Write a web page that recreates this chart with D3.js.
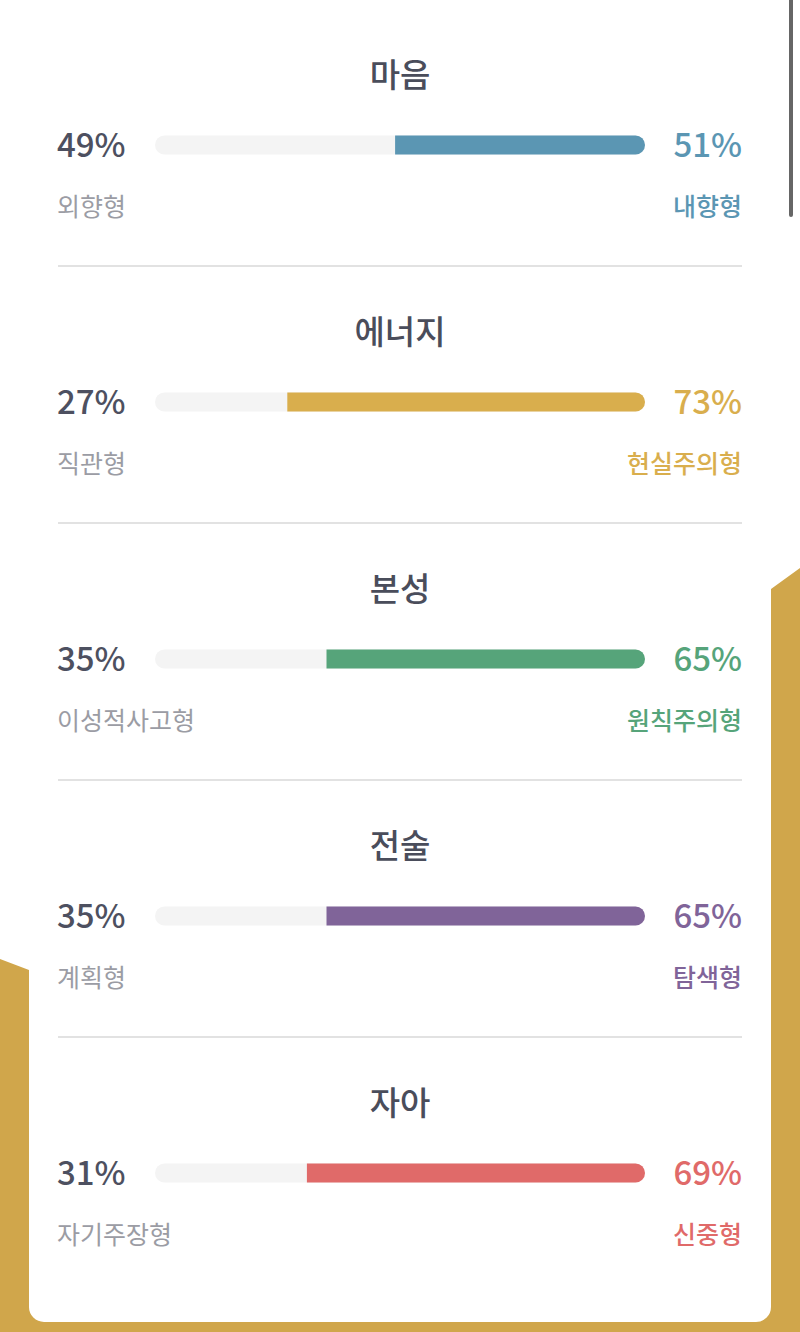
<!DOCTYPE html>
<html><head><meta charset="utf-8">
<script src="https://cdn.jsdelivr.net/npm/d3@7"></script>
<style>html,body{margin:0;padding:0;background:#fff;overflow:hidden}</style>
</head><body>
<svg id="c" width="800" height="1332"></svg>
<script>
const categories = ["마음","에너지","본성","전술","자아"];
const leftValues = [49,27,35,35,31];
const rightValues = [51,73,65,65,69];
const leftLabels = ["외향형","직관형","이성적사고형","계획형","자기주장형"];
const rightLabels = ["내향형","현실주의형","원칙주의형","탐색형","신중형"];
const colors = ["#5B96B3","#D9AE4D","#56A47A","#806499","#E06A69"];

const svg = d3.select("#c");
const font = "'Noto Sans CJK KR','Noto Sans',sans-serif";
// background
svg.append("rect").attr("width",800).attr("height",1332).attr("fill","#fff");
svg.append("path").attr("d","M0,959 L29,970 L400,800 L771,589 L800,568 L800,1332 L0,1332 Z").attr("fill","#D0A64B");
// card
svg.append("rect").attr("x",29).attr("y",-40).attr("width",742).attr("height",1362).attr("rx",15).attr("fill","#fff");
// scrollbar
svg.append("rect").attr("x",789).attr("y",-5).attr("width",4).attr("height",222).attr("rx",2).attr("fill","#666");

const x = d3.scaleLinear().domain([0,100]).range([155,645]);
const y0 = d3.scaleBand().domain(categories).range([10,1295]);
const step = y0.step();
const barH = 19;

categories.forEach((cat,i)=>{
  const top = y0(cat);
  const g = svg.append("g").attr("transform",`translate(0,${top})`);
  g.append("text").attr("x",400).attr("y",77).attr("text-anchor","middle")
    .attr("font-family",font).attr("font-size",33).attr("font-weight",500).attr("fill","#4A4D5B").text(cat);
  const cy = 135;
  g.append("rect").attr("x",x(0)).attr("y",cy-barH/2).attr("width",x(100)-x(0)).attr("height",barH).attr("rx",barH/2).attr("fill","#F4F4F4");
  const xs = x(leftValues[i]), xe = x(100), r = barH/2;
  g.append("path").attr("d",`M${xs},${cy-r} L${xe-r},${cy-r} A${r},${r} 0 0 1 ${xe-r},${cy+r} L${xs},${cy+r} Z`).attr("fill",colors[i]);
  g.append("text").attr("x",57).attr("y",cy+12).attr("font-family",font).attr("font-size",33).attr("font-weight",500).attr("fill","#4D5060").text(leftValues[i]+"%");
  g.append("text").attr("x",742).attr("y",cy+12).attr("text-anchor","end").attr("font-family",font).attr("font-size",33).attr("font-weight",500).attr("fill",colors[i]).text(rightValues[i]+"%");
  g.append("text").attr("x",57).attr("y",cy+71).attr("font-family",font).attr("font-size",25).attr("font-weight",400).attr("fill","#9B9CA4").text(leftLabels[i]);
  g.append("text").attr("x",742).attr("y",cy+71).attr("text-anchor","end").attr("font-family",font).attr("font-size",25).attr("font-weight",500).attr("fill",colors[i]).text(rightLabels[i]);
  if(i<categories.length-1){
    g.append("line").attr("x1",58).attr("x2",742).attr("y1",256).attr("y2",256).attr("stroke","#E2E2E2").attr("stroke-width",2);
  }
});
</script>
</body></html>
